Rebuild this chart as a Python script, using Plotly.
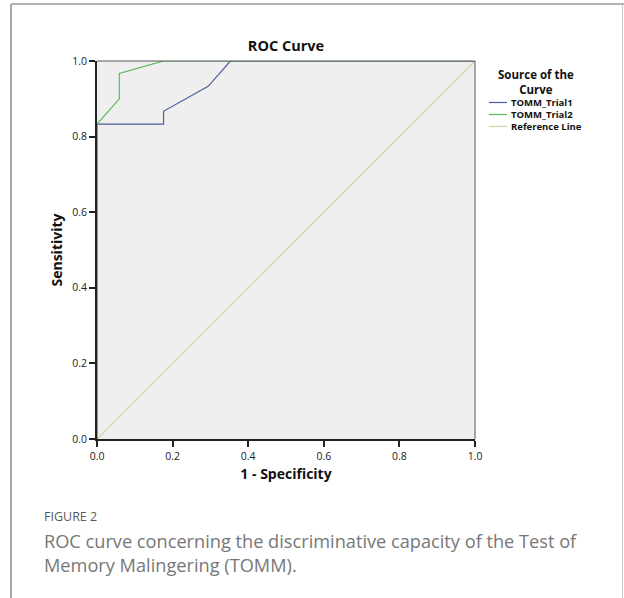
import plotly.graph_objects as go

# Data
trial1_fpr = [0.0, 0.0, 0.176, 0.176, 0.294, 0.353, 1.0]
trial1_tpr = [0.0, 0.833, 0.833, 0.867, 0.933, 1.0, 1.0]
trial2_fpr = [0.0, 0.0, 0.059, 0.059, 0.176, 1.0]
trial2_tpr = [0.0, 0.833, 0.9, 0.967, 1.0, 1.0]
ref_x = [0.0, 1.0]
ref_y = [0.0, 1.0]
tick_vals = [0.0, 0.2, 0.4, 0.6, 0.8, 1.0]
tick_text = ["0.0", "0.2", "0.4", "0.6", "0.8", "1.0"]
legend_names = ["TOMM_Trial1", "TOMM_Trial2", "Reference Line"]

BLUE = "#4f5f9e"
GREEN = "#5cb85c"
TAN = "#d8cfa4"
colors = [BLUE, GREEN, TAN]
FONT = "Open Sans"

fig = go.Figure()
fig.add_trace(go.Scatter(x=ref_x, y=ref_y, mode="lines", name=legend_names[2],
                         line=dict(color=TAN, width=1.2), showlegend=False))
fig.add_trace(go.Scatter(x=trial1_fpr, y=trial1_tpr, mode="lines", name=legend_names[0],
                         line=dict(color=BLUE, width=1.2), showlegend=False))
fig.add_trace(go.Scatter(x=trial2_fpr, y=trial2_tpr, mode="lines", name=legend_names[1],
                         line=dict(color=GREEN, width=1.2), showlegend=False))

W, H = 624, 598
L, R, T, B = 97, 149, 61, 159
pw, ph = W - L - R, H - T - B

def px_x(px):
    return (px - L) / pw

def px_y(py):
    return (H - B - py) / ph

shapes = []
# outer frame
shapes.append(dict(type="line", xref="paper", yref="paper", x0=px_x(11), x1=px_x(630),
                   y0=px_y(4), y1=px_y(4), line=dict(color="#9a9a9a", width=1.5)))
shapes.append(dict(type="line", xref="paper", yref="paper", x0=px_x(11), x1=px_x(11),
                   y0=px_y(4), y1=px_y(605), line=dict(color="#8a8a8a", width=1.5)))
shapes.append(dict(type="line", xref="paper", yref="paper", x0=px_x(622.5), x1=px_x(622.5),
                   y0=px_y(4), y1=px_y(605), line=dict(color="#cccccc", width=1)))
# plot top/right border (thin gray)
shapes.append(dict(type="line", xref="paper", yref="paper", x0=0, x1=1, y0=1, y1=1,
                   line=dict(color="#555555", width=1)))
shapes.append(dict(type="line", xref="paper", yref="paper", x0=1, x1=1, y0=0, y1=1,
                   line=dict(color="#555555", width=1)))

annotations = []
# legend (manual, compact like SPSS)
annotations.append(dict(text="<b>Source of the<br>Curve</b>", xref="paper", yref="paper",
                        x=px_x(536), y=px_y(65), xanchor="center", yanchor="top",
                        showarrow=False, align="center",
                        font=dict(family=FONT, size=11.5, color="#111")))
leg_y = [102.5, 114.5, 126.5]
for name, c, yy in zip(legend_names, colors, leg_y):
    shapes.append(dict(type="line", xref="paper", yref="paper", x0=px_x(489), x1=px_x(507),
                       y0=px_y(yy), y1=px_y(yy), line=dict(color=c, width=1.2)))
    annotations.append(dict(text="<b>" + name + "</b>", xref="paper", yref="paper",
                            x=px_x(509), y=px_y(yy), xanchor="left", yanchor="middle",
                            showarrow=False, font=dict(family=FONT, size=9.5, color="#111")))
# caption
annotations.append(dict(text="FIGURE 2", xref="paper", yref="paper", x=px_x(42), y=px_y(516),
                        xanchor="left", yanchor="middle", showarrow=False,
                        font=dict(family=FONT, size=12.5, color="#5a5a5a")))
annotations.append(dict(text="ROC curve concerning the discriminative capacity of the Test of<br>Memory Malingering (TOMM).",
                        xref="paper", yref="paper", x=px_x(42), y=px_y(527),
                        xanchor="left", yanchor="top", showarrow=False, align="left",
                        font=dict(family=FONT, size=18.2, color="#777777")))

fig.update_layout(
    width=W, height=H,
    margin=dict(l=L, r=R, t=T, b=B),
    paper_bgcolor="white", plot_bgcolor="#efefef",
    title=dict(text="<b>ROC Curve</b>", x=(L + pw / 2) / W, xanchor="center",
               y=1 - 46 / H, yanchor="middle",
               font=dict(family=FONT, size=14.5, color="#111")),
    xaxis=dict(range=[0, 1], tickvals=tick_vals, ticktext=tick_text, showgrid=False,
               zeroline=False, showline=True, linecolor="#222", linewidth=2,
               ticks="outside", ticklen=6, tickcolor="#222", tickwidth=1.5,
               tickfont=dict(family=FONT, size=10.5, color="#222"),
               title=dict(text="<b>1 - Specificity</b>", standoff=8,
                          font=dict(family=FONT, size=14, color="#111"))),
    yaxis=dict(range=[0, 1], tickvals=tick_vals, ticktext=tick_text, showgrid=False,
               zeroline=False, showline=True, linecolor="#222", linewidth=2,
               ticks="outside", ticklen=6, tickcolor="#222", tickwidth=1.5,
               tickfont=dict(family=FONT, size=10.5, color="#222"),
               title=dict(text="<b>Sensitivity</b>", standoff=6,
                          font=dict(family=FONT, size=14, color="#111"))),
    shapes=shapes, annotations=annotations,
    showlegend=False,
)

fig.write_html("out.html", config={"displayModeBar": False},
               post_script="document.body.style.margin='0';document.body.style.overflow='hidden';")
